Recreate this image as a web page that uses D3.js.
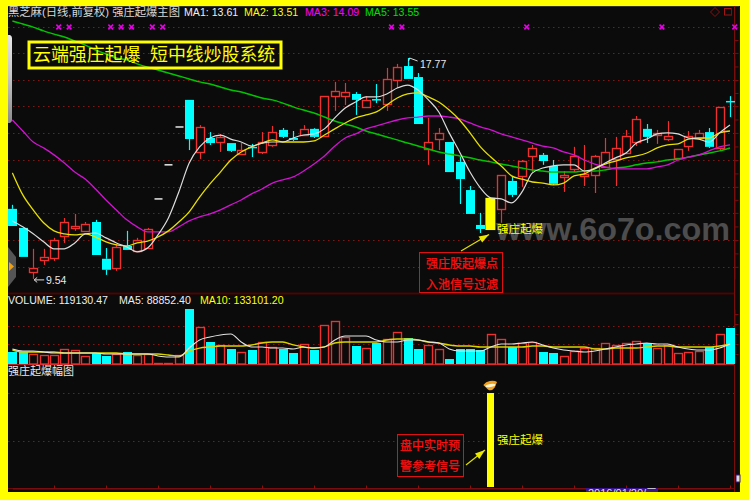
<!DOCTYPE html>
<html><head><meta charset="utf-8">
<script src="https://cdnjs.cloudflare.com/ajax/libs/d3/7.8.5/d3.min.js"></script>
<style>html,body{margin:0;padding:0;background:#ff0}svg{display:block}
text{font-family:"Liberation Sans","Noto Sans CJK SC",sans-serif}</style></head><body><div id="c"></div>
<script>
const opens=[12.15,11.44,9.80,10.25,10.32,11.14,11.44,11.33,11.66,10.29,9.95,10.77,10.58,10.69,12.52,13.79,15.20,16.21,14.27,14.79,14.64,14.60,14.19,14.46,14.27,14.53,15.09,14.79,14.90,15.13,14.87,16.35,16.35,16.43,15.95,16.24,16.06,16.95,17.47,17.06,14.38,14.75,14.64,13.90,12.85,11.55,11.36,12.15,13.19,13.38,14.12,14.16,13.75,13.34,13.64,13.38,13.41,13.71,14.01,14.23,14.64,15.13,14.90,14.75,14.05,14.49,14.79,15.01,14.42,16.17];
const closes=[11.51,10.36,9.95,10.36,10.99,11.66,11.51,11.59,10.43,9.88,10.73,10.62,10.99,11.40,12.52,13.79,15.20,14.75,15.20,14.60,14.83,14.31,14.34,14.42,14.64,15.01,14.83,14.72,15.13,14.83,16.35,16.54,16.50,16.21,16.21,16.21,16.99,17.43,16.99,15.31,14.64,14.98,13.52,13.26,11.96,11.40,12.56,13.41,12.67,13.93,14.42,13.93,13.08,13.41,14.12,13.45,14.12,14.27,14.42,14.87,15.50,14.83,14.98,14.87,14.38,14.87,14.98,14.46,15.95,16.13];
const highs=[12.30,11.44,10.66,10.66,11.07,11.81,11.96,11.66,11.74,10.69,10.84,11.33,11.07,11.44,12.52,13.79,15.20,16.21,15.27,15.01,14.94,14.60,14.60,14.57,15.01,15.24,15.16,15.05,15.27,15.16,16.35,16.88,16.84,16.50,16.35,16.80,17.40,17.55,17.77,17.21,15.54,15.16,14.64,14.08,13.00,12.00,12.56,13.41,13.34,13.97,14.53,14.23,13.97,13.56,14.46,14.53,14.16,14.79,14.83,15.09,15.61,15.31,15.09,15.42,14.38,15.05,15.09,15.16,15.95,16.35];
const lows=[11.51,10.36,9.54,10.06,10.21,10.88,11.33,11.29,10.43,9.69,9.84,10.62,10.55,10.66,12.52,13.79,15.20,14.34,14.01,14.53,14.27,14.27,14.19,14.08,14.19,14.46,14.79,14.68,14.87,14.79,14.83,15.80,16.02,15.65,15.91,16.09,15.80,16.65,16.99,15.31,13.79,14.34,13.52,12.33,11.96,11.25,11.36,11.63,12.59,12.97,13.52,13.79,13.04,12.78,13.52,13.00,12.74,13.71,13.00,14.19,14.49,14.60,14.57,14.68,14.05,14.31,14.72,14.42,14.34,15.57];
const ma1=[11.70,11.48,11.22,10.92,10.66,10.66,10.88,11.22,11.25,11.07,10.88,10.73,10.55,10.69,11.18,11.81,12.78,13.86,14.46,14.79,14.90,14.75,14.64,14.49,14.60,14.64,14.64,14.79,14.90,14.94,15.13,15.54,15.91,16.13,16.32,16.32,16.43,16.65,16.76,16.58,16.21,15.76,14.98,14.27,13.52,12.93,12.56,12.52,12.37,12.78,13.49,13.67,13.75,13.79,13.79,13.56,13.64,13.86,14.05,14.23,14.60,14.75,14.94,14.98,14.94,14.79,14.75,14.64,14.98,15.27];
const ma2=[13.49,12.67,12.11,11.63,11.33,11.22,11.18,11.22,11.10,10.92,10.81,10.77,10.88,10.95,11.10,11.33,11.66,12.04,12.59,13.08,13.52,13.97,14.27,14.46,14.60,14.72,14.64,14.64,14.64,14.68,14.90,15.13,15.35,15.54,15.65,15.76,16.02,16.28,16.43,16.47,16.32,16.13,15.83,15.46,14.98,14.46,14.08,13.75,13.38,13.26,13.15,13.11,13.04,13.11,13.38,13.45,13.67,13.82,13.93,14.05,14.12,14.23,14.42,14.53,14.57,14.75,14.79,14.79,14.98,15.05];
const ma3=[15.46,15.05,14.64,14.42,14.16,13.86,13.52,13.26,12.89,12.48,12.11,11.74,11.48,11.29,11.29,11.29,11.48,11.70,11.85,11.96,12.11,12.30,12.48,12.71,12.89,13.11,13.23,13.34,13.56,13.82,14.12,14.49,14.79,14.94,15.13,15.24,15.35,15.46,15.54,15.57,15.61,15.61,15.57,15.50,15.35,15.20,15.09,14.94,14.83,14.72,14.60,14.49,14.42,14.27,14.16,13.97,13.82,13.71,13.64,13.64,13.64,13.64,13.71,13.79,13.97,14.08,14.16,14.31,14.46,14.53];
const ma5=[19.15,19.04,18.92,18.78,18.66,18.55,18.40,18.25,18.07,17.92,17.77,17.70,17.55,17.43,17.32,17.21,17.10,16.99,16.88,16.80,16.69,16.58,16.50,16.39,16.28,16.21,16.09,15.95,15.83,15.72,15.57,15.42,15.31,15.20,15.05,14.94,14.83,14.72,14.60,14.49,14.38,14.27,14.19,14.12,14.05,13.97,13.90,13.82,13.75,13.67,13.60,13.56,13.52,13.52,13.52,13.56,13.56,13.60,13.67,13.71,13.79,13.86,13.90,13.97,14.01,14.08,14.16,14.23,14.31,14.42];
const volumes=[39700,39700,33100,29800,29800,49600,46300,26500,36400,26500,33100,39700,29800,33100,3300,3300,29800,182000,122400,72800,62900,49600,39700,46300,72800,56300,49600,36400,66200,46300,129100,142300,89300,59600,52900,69500,82700,105900,86000,49600,62900,49600,16500,49600,49600,46300,99300,82700,56300,69500,72800,39700,36400,26500,43000,52900,52900,69500,62900,69500,76100,69500,52900,62900,36400,39700,43000,56300,99300,119130];
const volMa5=[49600,43000,43000,39700,36400,36400,36400,36400,36400,33100,33100,33100,33100,33100,26500,23200,23200,52900,79400,89300,96000,99300,72800,56300,56300,52900,52900,49600,56300,52900,56300,79400,92700,92700,92700,79400,72800,72800,79400,79400,72800,69500,49600,43000,43000,43000,56300,66200,66200,69500,72800,62900,52900,46300,43000,39700,43000,49600,56300,62900,66200,69500,66200,66200,56300,49600,46300,46300,52900,66200];
const volMa10=[46300,39700,39700,39700,39700,36400,36400,36400,36400,36400,36400,33100,33100,33100,33100,29800,26500,43000,52900,56300,59600,59600,59600,62900,69500,72800,72800,62900,56300,52900,56300,69500,72800,72800,72800,72800,79400,82700,82700,79400,72800,69500,62900,59600,59600,56300,56300,56300,56300,56300,59600,59600,56300,56300,56300,56300,49600,49600,52900,52900,52900,56300,59600,59600,56300,56300,56300,56300,59600,66200];
const priceGrid=[18.92,17.96,16.95,15.98,14.98,13.97,12.97,12.00,10.99,9.99];
const volGrid=[125700,66200];
const ampGrid=[100,49];
const crossIdx=[4,5,9,10,11,13,14,36,37,49,62,69];
const signalIdx=[46];
const ampValues=[100];
const monthTicks=[4,9,14,19,24,29,34,39,44,49,54,59,64,69];
const headerLabels=["黑芝麻(日线,前复权) 强庄起爆主图","MA1: 13.61","MA2: 13.51","MA3: 14.09","MA5: 13.55"];
const volLabels=["VOLUME: 119130.47","MA5: 88852.40","MA10: 133101.20"];

const W=749,H=500,bg="#0b0b0b",up="#ee3030",down="#00ffff",yel="#ffff00";
const svg=d3.select("#c").append("svg").attr("width",W).attr("height",H);
svg.append("rect").attr("width",W).attr("height",H).attr("fill",yel);
svg.append("rect").attr("x",8).attr("y",6).attr("width",732).attr("height",486).attr("fill",bg);
svg.append("line").attr("x1",8).attr("x2",740).attr("y1",6.5).attr("y2",6.5).attr("stroke","#333");

const n=opens.length;
const x=d3.scaleLinear().domain([0,n-1]).range([12.4,730]);
const y=d3.scaleLinear().domain([9.54,17.77]).range([278.9,58]);
const yv=d3.scaleLinear().domain([0,182000]).range([364,309]);
const ya=d3.scaleLinear().domain([0,100]).range([487,393]);
const snap=v=>Math.round(v)+0.5;

function grid(vals,sc){
  svg.append("g").selectAll("line").data(vals).join("line")
    .attr("x1",8).attr("x2",735).attr("y1",d=>snap(sc(d))).attr("y2",d=>snap(sc(d)))
    .attr("stroke","#8a1414").attr("stroke-width",1).attr("stroke-dasharray","1.5 3.5");
}
grid(priceGrid,y);grid(volGrid,yv);grid(ampGrid,ya);

// watermark
svg.append("text").attr("x",496).attr("y",240).attr("fill","#4d4d4d").attr("font-size",32).attr("font-weight","bold")
  .attr("font-family","'DejaVu Sans'").attr("textLength",234).attr("lengthAdjust","spacingAndGlyphs").text("www.6o7o.com");

// separators and frame
[[293.5,"#4a0505",2],[364.5,"#c02020",1],[488.5,"#6a0a0a",1]].forEach(([py,c,w])=>
  svg.append("line").attr("x1",8).attr("x2",735).attr("y1",py).attr("y2",py).attr("stroke",c).attr("stroke-width",w));

// right axes
const halfTicks=priceGrid.flatMap((d,i)=>i<priceGrid.length-1?[d,(d+priceGrid[i+1])/2]:[d]);
const axR=d3.axisRight(y).tickValues(halfTicks).tickFormat("").tickSize(4).tickSizeOuter(0);
const gR=svg.append("g").attr("transform","translate(734.5,0)").call(axR);
gR.selectAll("path,line").attr("stroke","#7a0c0c");
svg.append("line").attr("x1",734.5).attr("x2",734.5).attr("y1",6).attr("y2",492).attr("stroke","#7a0c0c");
svg.append("line").attr("x1",739.5).attr("x2",739.5).attr("y1",6).attr("y2",492).attr("stroke","#3a0505");
const axV=d3.axisRight(yv).tickValues([33100,66200,99300,132400,165500]).tickFormat("").tickSize(4).tickSizeOuter(0);
svg.append("g").attr("transform","translate(734.5,0)").call(axV).selectAll("path,line").attr("stroke","#7a0c0c");

// bottom axis
const axB=d3.axisBottom(x).tickValues(monthTicks).tickFormat("").tickSize(-3).tickSizeOuter(0);
svg.append("g").attr("transform","translate(0,488.5)").call(axB).selectAll("path,line").attr("stroke","#8a1010");

// candles
const idx=d3.range(n);
const isSig=i=>signalIdx.includes(i);
const colorOf=i=>closes[i]>=opens[i]?up:down;
const cg=svg.append("g");
idx.forEach(i=>{
  const cx=snap(x(i)), top=y(Math.max(opens[i],closes[i])), bot=y(Math.min(opens[i],closes[i]));
  if(opens[i]===closes[i]){
    cg.append("line").attr("x1",cx-4).attr("x2",cx+4).attr("y1",top).attr("y2",top).attr("stroke","#d8d8d8").attr("stroke-width",1.6);return;
  }
  const c=colorOf(i);
  cg.append("line").attr("x1",cx).attr("x2",cx).attr("y1",y(highs[i])).attr("y2",top).attr("stroke",c).attr("stroke-width",1.2);
  cg.append("line").attr("x1",cx).attr("x2",cx).attr("y1",bot).attr("y2",y(lows[i])).attr("stroke",c).attr("stroke-width",1.2);
  if(isSig(i)){
    cg.append("rect").attr("x",x(i)-5.4).attr("y",top).attr("width",10).attr("height",bot-top).attr("fill",yel);
  }else if(c===up){
    cg.append("rect").attr("x",cx-4).attr("y",snap(top)).attr("width",8).attr("height",Math.round(bot-top)).attr("fill",bg).attr("stroke",c).attr("stroke-width",1.35);
  }else{
    cg.append("rect").attr("x",cx-4.5).attr("y",top).attr("width",9).attr("height",Math.max(1.5,bot-top)).attr("fill",down);
  }
});

// MA lines
const line=(sc)=>d3.line().x((d,i)=>x(i)).y(d=>sc(d)).curve(d3.curveMonotoneX);
[[ma5,"#00c400",1.5],[ma3,"#d312d3",1.3],[ma2,"#e8e000",1.3],[ma1,"#dcdcdc",1.2]].forEach(([a,c,w])=>
  svg.append("path").attr("d",line(y)(a)).attr("fill","none").attr("stroke",c).attr("stroke-width",w));

// crosses
svg.append("g").selectAll("path").data(crossIdx).join("path")
  .attr("d",d3.symbol().type(d3.symbolTimes).size(16))
  .attr("transform",d=>`translate(${x(d)+4.7},27)`).attr("stroke","#e800e8").attr("stroke-width",1.6).attr("fill","none");

// volumes
const vg=svg.append("g");
idx.forEach(i=>{
  const t=yv(volumes[i]);
  if(closes[i]>=opens[i]){
    vg.append("rect").attr("x",snap(x(i))-4).attr("y",snap(t)).attr("width",8).attr("height",Math.max(0.5,364-snap(t))).attr("fill",bg).attr("stroke",up).attr("stroke-width",1.35);
  }else{
    vg.append("rect").attr("x",snap(x(i))-4.5).attr("y",t).attr("width",9).attr("height",364-t).attr("fill",down);
  }
});
svg.append("path").attr("d",line(yv)(volMa10)).attr("fill","none").attr("stroke","#d8d400").attr("stroke-width",1.3);
svg.append("path").attr("d",line(yv)(volMa5)).attr("fill","none").attr("stroke","#e4e4e4").attr("stroke-width",1.1);

// amplitude panel
signalIdx.forEach((s,k)=>{
  svg.append("rect").attr("x",x(s)-3.8).attr("y",ya(ampValues[k])).attr("width",7).attr("height",ya(0)-ya(ampValues[k])).attr("fill",yel);
  const g=svg.append("g").attr("transform",`translate(${x(s)-0.3},386) rotate(-8)`);
  g.append("path").attr("d","M-7,-2 Q-4,-5 0,-5 Q5,-5 7,-3 L4,2 Q0,6 -3,3 Z").attr("fill","#f0a020");
  g.append("ellipse").attr("cx",0).attr("cy",-0.5).attr("rx",5).attr("ry",1.6).attr("fill","#fff4d0");
});

// text helper
function T(px,py,s,c,fs,extra){
  const t=svg.append("text").attr("x",px).attr("y",py).attr("fill",c).attr("font-size",fs).text(s);
  if(extra)extra(t);return t;
}
const hdrX=[8,184,244,305,365],hdrC=["#d8d8d8","#f0f0f0",yel,"#ff00ff","#00e000"];
headerLabels.forEach((s,i)=>T(hdrX[i],16,s,hdrC[i],i?10.6:11.3));
const vX=[8,119,200],vC=["#eee","#eee",yel];
volLabels.forEach((s,i)=>T(vX[i],304,s,vC[i],10.6));
T(8,375,"强庄起爆幅图","#e8e8e8",11);

// top right icons
svg.append("path").attr("d","M715,7.5 L719.5,12 L715,16.5 L710.5,12 Z").attr("fill","none").attr("stroke","#8a1010");
svg.append("rect").attr("x",724.5).attr("y",8.5).attr("width",7).attr("height",6.5).attr("fill","none").attr("stroke","#a01515");
svg.append("line").attr("x1",731.5).attr("x2",731.5).attr("y1",8).attr("y2",15).attr("stroke","#701010");

// title box
svg.append("rect").attr("x",29).attr("y",42).attr("width",252).attr("height",26).attr("fill","none").attr("stroke",yel).attr("stroke-width",3);
T(33,61,"云端强庄起爆",yel,17.9);
T(150,61,"短中线炒股系统",yel,17.9);

// high/low labels
const hiI=highs.indexOf(d3.max(highs)),loI=lows.indexOf(d3.min(lows));
svg.append("path").attr("d",`M${x(hiI)+1},${y(highs[hiI])+3} L${x(hiI)+2},${y(highs[hiI])} L${x(hiI)+10},${y(highs[hiI])+3}`).attr("fill","none").attr("stroke","#ddd");
T(420,68,"17.77","#e8e8e8",10.5);
svg.append("path").attr("d",`M${x(loI)+1},${y(lows[loI])+1} L${x(loI)+11},${y(lows[loI])+1} M${x(loI)+4},${y(lows[loI])-1.5} L${x(loI)+1},${y(lows[loI])+1} L${x(loI)+4},${y(lows[loI])+3.5}`).attr("fill","none").attr("stroke","#ddd");
T(46,284,"9.54","#e8e8e8",10.5);

// yellow labels
T(497,233,"强庄起爆",yel,11.5);
T(497,444,"强庄起爆",yel,11.5);

// red boxes
function redBox(bx,by,bw,bh,l1,l2,tx,y1,y2){
  svg.append("rect").attr("x",bx).attr("y",by).attr("width",bw).attr("height",bh).attr("fill",bg).attr("stroke","#e01010");
  [[l1,y1],[l2,y2]].forEach(([s,py])=>T(tx,py,s,"#ff1010",12,t=>t.attr("stroke","#ff1010").attr("stroke-width",0.25)));
}
redBox(419.5,252.5,83,40,"强庄股起爆点","入池信号过滤",426,268,289);
redBox(397.5,434.5,66,42,"盘中实时预","警参考信号",400,450,471);

// arrows
function arrow(x1,y1,x2,y2){
  svg.append("line").attr("x1",x1).attr("y1",y1).attr("x2",x2).attr("y2",y2).attr("stroke","#e0e000").attr("stroke-width",1.2);
  const a=Math.atan2(y2-y1,x2-x1),l=10,w=3.5;
  const bx=x2-l*Math.cos(a),by=y2-l*Math.sin(a),nx=-Math.sin(a)*w,ny=Math.cos(a)*w;
  svg.append("path").attr("d",`M${x2},${y2} L${bx+nx},${by+ny} L${bx-nx},${by-ny} Z`).attr("fill","#e8e800");
}
arrow(461,251,489,234.5);
arrow(466,465,485,450);

// handles
const grad=svg.append("defs").append("linearGradient").attr("id","h").attr("x1",0).attr("x2",0).attr("y1",0).attr("y2",1);
grad.append("stop").attr("offset","0").attr("stop-color","#e8e8e8");
grad.append("stop").attr("offset","0.45").attr("stop-color","#c8c8c8");
grad.append("stop").attr("offset","1").attr("stop-color","#8a8a8a");
svg.append("path").attr("d","M8,35 L10,35 Q12,36 12,38 L12,120 Q12,122 10,123 L8,123 Z").attr("fill","url(#h)");
svg.append("path").attr("d","M8,247 L16,257 L16,277 L8,287 Z").attr("fill","#555");
svg.append("path").attr("d","M9,262 L14,266.5 L9,271 Z").attr("fill","#f0a010");

// date tag
svg.append("rect").attr("x",586).attr("y",488).attr("width",72).attr("height",4).attr("fill","#3a1490");
const clip=svg.append("clipPath").attr("id","dc");clip.append("rect").attr("x",586).attr("y",488).attr("width",72).attr("height",4);
T(588,497,"2016/01/20/三","#ddd",11,t=>t.attr("clip-path","url(#dc)"));
svg.append("rect").attr("x",736).attr("y",475).attr("width",4).attr("height",7).attr("fill","#ddd").attr("stroke","#3a1490");
</script></body></html>
